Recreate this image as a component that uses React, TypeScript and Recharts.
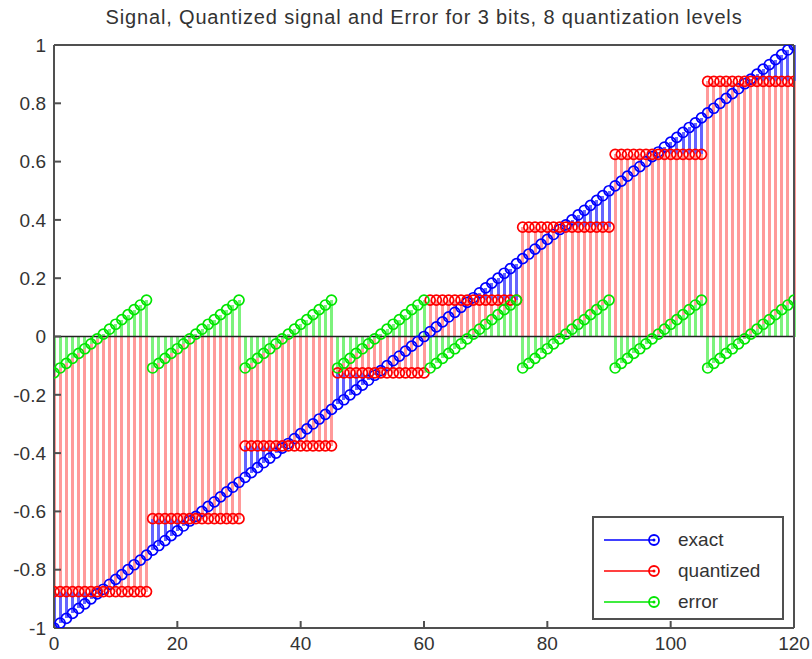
import React from 'react';
import {
  ComposedChart,
  Scatter,
  ErrorBar,
  XAxis,
  YAxis,
  ReferenceLine,
  Legend,
} from 'recharts';

// Ramp signal sampled at n = 0..120
const exact = [
  -1, -0.983, -0.967, -0.95, -0.933, -0.917, -0.9, -0.883, -0.867, -0.85,
  -0.833, -0.817, -0.8, -0.783, -0.767, -0.75, -0.733, -0.717, -0.7, -0.683,
  -0.667, -0.65, -0.633, -0.617, -0.6, -0.583, -0.567, -0.55, -0.533, -0.517,
  -0.5, -0.483, -0.467, -0.45, -0.433, -0.417, -0.4, -0.383, -0.367, -0.35,
  -0.333, -0.317, -0.3, -0.283, -0.267, -0.25, -0.233, -0.217, -0.2, -0.183,
  -0.167, -0.15, -0.133, -0.117, -0.1, -0.083, -0.067, -0.05, -0.033, -0.017,
  0, 0.017, 0.033, 0.05, 0.067, 0.083, 0.1, 0.117, 0.133, 0.15,
  0.167, 0.183, 0.2, 0.217, 0.233, 0.25, 0.267, 0.283, 0.3, 0.317,
  0.333, 0.35, 0.367, 0.383, 0.4, 0.417, 0.433, 0.45, 0.467, 0.483,
  0.5, 0.517, 0.533, 0.55, 0.567, 0.583, 0.6, 0.617, 0.633, 0.65,
  0.667, 0.683, 0.7, 0.717, 0.733, 0.75, 0.767, 0.783, 0.8, 0.817,
  0.833, 0.85, 0.867, 0.883, 0.9, 0.917, 0.933, 0.95, 0.967, 0.983,
  1,
];

// 3-bit quantizer output (8 levels)
const quantized = [
  -0.875, -0.875, -0.875, -0.875, -0.875, -0.875, -0.875, -0.875,
  -0.875, -0.875, -0.875, -0.875, -0.875, -0.875, -0.875, -0.875,
  -0.625, -0.625, -0.625, -0.625, -0.625, -0.625, -0.625, -0.625, -0.625, -0.625, -0.625, -0.625, -0.625, -0.625, -0.625,
  -0.375, -0.375, -0.375, -0.375, -0.375, -0.375, -0.375, -0.375, -0.375, -0.375, -0.375, -0.375, -0.375, -0.375, -0.375,
  -0.125, -0.125, -0.125, -0.125, -0.125, -0.125, -0.125, -0.125, -0.125, -0.125, -0.125, -0.125, -0.125, -0.125, -0.125,
  0.125, 0.125, 0.125, 0.125, 0.125, 0.125, 0.125, 0.125, 0.125, 0.125, 0.125, 0.125, 0.125, 0.125, 0.125,
  0.375, 0.375, 0.375, 0.375, 0.375, 0.375, 0.375, 0.375, 0.375, 0.375, 0.375, 0.375, 0.375, 0.375, 0.375,
  0.625, 0.625, 0.625, 0.625, 0.625, 0.625, 0.625, 0.625, 0.625, 0.625, 0.625, 0.625, 0.625, 0.625, 0.625,
  0.875, 0.875, 0.875, 0.875, 0.875, 0.875, 0.875, 0.875, 0.875, 0.875, 0.875, 0.875, 0.875, 0.875, 0.875,
];

// exact - quantized
const error = [
  -0.125, -0.108, -0.092, -0.075, -0.058, -0.042, -0.025, -0.008, 0.008, 0.025, 0.042, 0.058, 0.075, 0.092, 0.108, 0.125,
  -0.108, -0.092, -0.075, -0.058, -0.042, -0.025, -0.008, 0.008, 0.025, 0.042, 0.058, 0.075, 0.092, 0.108, 0.125,
  -0.108, -0.092, -0.075, -0.058, -0.042, -0.025, -0.008, 0.008, 0.025, 0.042, 0.058, 0.075, 0.092, 0.108, 0.125,
  -0.108, -0.092, -0.075, -0.058, -0.042, -0.025, -0.008, 0.008, 0.025, 0.042, 0.058, 0.075, 0.092, 0.108, 0.125,
  -0.108, -0.092, -0.075, -0.058, -0.042, -0.025, -0.008, 0.008, 0.025, 0.042, 0.058, 0.075, 0.092, 0.108, 0.125,
  -0.108, -0.092, -0.075, -0.058, -0.042, -0.025, -0.008, 0.008, 0.025, 0.042, 0.058, 0.075, 0.092, 0.108, 0.125,
  -0.108, -0.092, -0.075, -0.058, -0.042, -0.025, -0.008, 0.008, 0.025, 0.042, 0.058, 0.075, 0.092, 0.108, 0.125,
  -0.108, -0.092, -0.075, -0.058, -0.042, -0.025, -0.008, 0.008, 0.025, 0.042, 0.058, 0.075, 0.092, 0.108, 0.125,
];

const xTicks = [0, 20, 40, 60, 80, 100, 120];
const yTicks = [-1, -0.8, -0.6, -0.4, -0.2, 0, 0.2, 0.4, 0.6, 0.8, 1];

// marker colour + lighter stem colour per series
const series = [
  { key: 'exact', name: 'exact', color: '#0000ff', stem: '#6464ff' },
  { key: 'quantized', name: 'quantized', color: '#ff0000', stem: '#ff9a9a' },
  { key: 'error', name: 'error', color: '#00e600', stem: '#7cf27c' },
];

const rows = exact.map((v, n) => ({
  n,
  exact: v,
  quantized: quantized[n],
  error: error[n],
}));

const FONT = '"Liberation Sans", Arial, sans-serif';
const AXIS = '#505050';
const TEXT = '#333';

// stem: error bar running from the value back to the zero baseline
const stemTo0 = (key: string) => (d: any) => [Math.max(d[key], 0), Math.max(-d[key], 0)];

const Marker = (color: string) => (p: any) => (
  <circle cx={p.cx} cy={p.cy} r={5} fill="none" stroke={color} strokeWidth={1.7} />
);

const LegendBox = () => (
  <div
    style={{
      width: 192,
      height: 104,
      boxSizing: 'border-box',
      border: `2px solid ${AXIS}`,
      background: '#fff',
      fontFamily: FONT,
      fontSize: 19,
      color: TEXT,
      paddingTop: 6,
    }}
  >
    {series.map((s) => (
      <div key={s.key} style={{ display: 'flex', alignItems: 'center', height: 31 }}>
        <svg width={70} height={14} style={{ marginLeft: 10 }}>
          <line x1={0} y1={7} x2={50} y2={7} stroke={s.color} strokeWidth={1.5} />
          <circle cx={50} cy={7} r={5} fill="none" stroke={s.color} strokeWidth={1.8} />
          <circle cx={50} cy={7} r={1.5} fill={s.color} />
        </svg>
        <span style={{ marginLeft: 4 }}>{s.name}</span>
      </div>
    ))}
  </div>
);

export default function App() {
  return (
    <div style={{ position: 'fixed', left: 0, top: 0, width: 812, height: 659, background: '#fff' }}>
      <div
        style={{
          position: 'absolute',
          left: 54,
          width: 740,
          top: 6,
          textAlign: 'center',
          fontFamily: FONT,
          fontSize: 20,
          letterSpacing: 0.85,
          color: TEXT,
          whiteSpace: 'nowrap',
        }}
      >
        Signal, Quantized signal and Error for 3 bits, 8 quantization levels
      </div>
      <ComposedChart
        width={812}
        height={659}
        data={rows}
        margin={{ top: 44, right: 17, bottom: 0, left: 0 }}
      >
        <XAxis
          dataKey="n"
          type="number"
          domain={[0, 120]}
          ticks={xTicks}
          allowDataOverflow
          height={31}
          stroke={AXIS}
          strokeWidth={2}
          tickSize={-7}
          tickMargin={16}
          tick={{ fill: TEXT, fontSize: 19, fontFamily: FONT }}
        />
        <XAxis
          xAxisId="top"
          orientation="top"
          type="number"
          domain={[0, 120]}
          ticks={xTicks}
          allowDataOverflow
          height={1}
          stroke={AXIS}
          strokeWidth={2}
          tickSize={-7}
          tick={false}
        />
        <YAxis
          type="number"
          domain={[-1, 1]}
          ticks={yTicks}
          allowDataOverflow
          width={54}
          stroke={AXIS}
          strokeWidth={2}
          tickSize={-7}
          tickMargin={15}
          tick={{ fill: TEXT, fontSize: 19, fontFamily: FONT }}
        />
        <YAxis
          yAxisId="right"
          orientation="right"
          type="number"
          domain={[-1, 1]}
          ticks={yTicks}
          allowDataOverflow
          width={1}
          stroke={AXIS}
          strokeWidth={2}
          tickSize={-7}
          tick={false}
        />
        {series.map((s) => (
          <Scatter
            key={s.key}
            name={s.name}
            dataKey={s.key}
            fill="none"
            stroke={s.color}
            shape={Marker(s.color)}
            isAnimationActive={false}
          >
            <ErrorBar
              dataKey={stemTo0(s.key)}
              direction="y"
              width={0}
              stroke={s.stem}
              strokeWidth={3}
              shapeRendering="crispEdges"
              isAnimationActive={false}
            />
          </Scatter>
        ))}
        <ReferenceLine y={0} stroke="#222" strokeWidth={1.5} />
        <Legend
          layout="horizontal"
          verticalAlign="middle"
          align="center"
          wrapperStyle={{ left: 592, top: 516, width: 192, height: 104 }}
          content={() => <LegendBox />}
        />
      </ComposedChart>
    </div>
  );
}
